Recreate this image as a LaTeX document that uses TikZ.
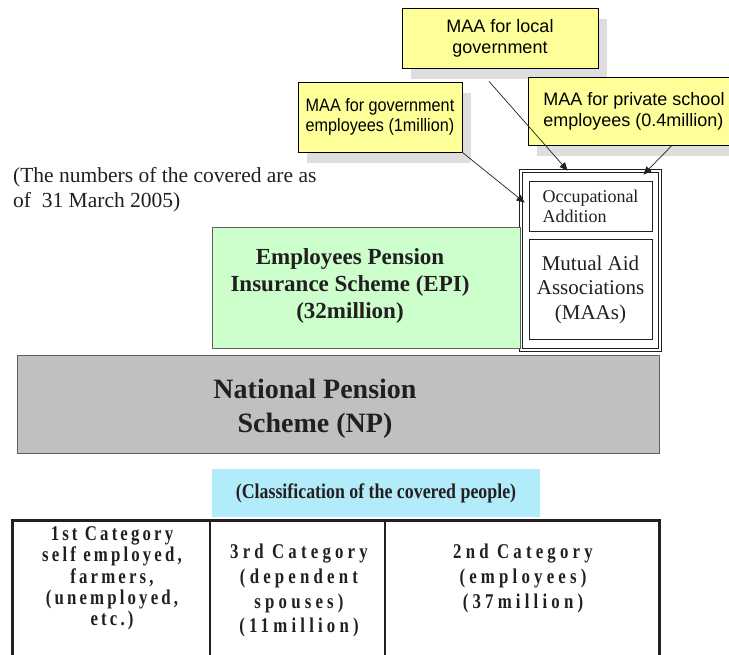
\documentclass[tikz,border=0pt]{standalone}
\usepackage{fontspec}
\setmainfont{Liberation Serif}
\setsansfont{Liberation Sans}
\newfontfamily\narrowsans[FakeStretch=0.9]{Liberation Sans}
\newfontfamily\condserif[FakeStretch=0.85]{Liberation Serif}
\newfontfamily\catserif[FakeStretch=0.8,LetterSpace=15]{Liberation Serif}
\newfontfamily\widecatserif[FakeStretch=0.8,LetterSpace=20]{Liberation Serif}
\usetikzlibrary{arrows.meta,positioning,calc,shadows}
\definecolor{MemoYellow}{RGB}{255,255,153}
\definecolor{ShadowGray}{RGB}{222,222,222}
\definecolor{EpiGreen}{RGB}{204,255,204}
\definecolor{NpGray}{RGB}{192,192,192}
\definecolor{LabelCyan}{RGB}{178,236,250}
\definecolor{Ink}{RGB}{35,31,32}
\definecolor{EdgeGray}{RGB}{95,95,95}
\tikzset{
  memo/.style    ={rectangle, draw=black, line width=.8pt, fill=MemoYellow, text=black,
                   font=\sffamily\fontsize{18}{21}\selectfont, inner sep=0pt,
                   drop shadow={shadow xshift=9pt, shadow yshift=-11pt, fill=ShadowGray, opacity=1}},
  scheme/.style  ={rectangle, draw=EdgeGray, line width=.8pt, inner sep=0pt},
  schemetxt/.style={align=center, text=Ink, font=\bfseries, inner sep=0pt},
  maabox/.style  ={rectangle, draw=Ink, line width=.9pt, double=white, double distance=1.3pt,
                   fill=white, inner sep=0pt},
  subbox/.style  ={rectangle, draw=Ink, line width=.7pt, fill=white, text=Ink, inner sep=0pt,
                   minimum width=123pt},
  cattxt/.style  ={align=center, text=Ink, inner sep=0pt, anchor=north},
  arr/.style     ={-{Triangle[length=8pt,width=7pt]}, draw=Ink, line width=.7pt},
}
\begin{document}
\begin{tikzpicture}[x=1pt,y=-1pt]
  \useasboundingbox (0,0) rectangle (729,654);

  % mutual aid associations fed from the three memos
  \node[memo,minimum width=196pt,minimum height=60pt,align=center] (locgov) at (500,38)
       {MAA for local\\government};
  \node[memo,minimum width=164pt,minimum height=70pt,align=left,
        font=\narrowsans\fontsize{18}{20}\selectfont] (govemp) at (380,117)
       {MAA for government\\employees (1million)};
  \node[memo,minimum width=212pt,minimum height=68pt,align=left] (private) at (634,111)
       {MAA for private school\\employees (0.4million)};

  \node[anchor=north west,align=left,inner sep=0pt,text=Ink,font=\fontsize{21.5}{25}\selectfont]
       (asof) at (13,167) {(The numbers of the covered are as\\of \ 31 March 2005)};

  \node[maabox,minimum width=139pt,minimum height=179pt] (maa) at (590.5,260.5) {};
  \node[subbox,minimum height=50pt,align=left,font=\fontsize{18}{20}\selectfont]
       (occ) at (590.5,206) {Occupational\\Addition};
  \node[subbox,minimum height=100pt,align=center,font=\fontsize{21}{24.5}\selectfont,
        below=8pt of occ] (mut) {Mutual Aid\\Associations\\(MAAs)};

  \node[scheme,fill=EpiGreen,minimum width=308pt,minimum height=121pt] (epi) at (366,287.5) {};
  \node[schemetxt,font=\bfseries\fontsize{23}{27}\selectfont] (epitxt) at (350,286)
       {Employees Pension\\Insurance Scheme (EPI)\\(32million)};

  \node[scheme,fill=NpGray,minimum width=642pt,minimum height=98pt] (np) at (338,404) {};
  \node[schemetxt,font=\bfseries\fontsize{28}{34}\selectfont] (nptxt) at (315,409)
       {National Pension\\Scheme (NP)};

  \draw[arr] ($(locgov.south)+(-11,13)$) -- ($(maa.north west)+(47,0)$);
  \draw[arr] ($(private.south)+(38,0)$) -- ($(maa.north east)+(-17,4)$);
  \draw[arr] (govemp.south east) -- ($(maa.north west)+(4,32)$);

  % classification of the covered people
  \node[fill=LabelCyan,minimum width=328pt,minimum height=48pt,inner sep=0pt,text=Ink,
        font=\condserif\bfseries\fontsize{21}{24}\selectfont] (classlbl) at (376,493)
       {(Classification of the covered people)};

  \draw[Ink,line width=3pt] (12,670) -- (12,520.5) -- (659,520.5) -- (659,670);
  \draw[Ink,line width=1.2pt] (210,522) -- (210,670) (385,522) -- (385,670);

  \node[cattxt,font=\catserif\bfseries\fontsize{21}{21.3}\selectfont] (cat1) at (112,526.5)
       {1st Category\\self employed,\\farmers,\\(unemployed,\\etc.)};
  \node[cattxt,font=\widecatserif\bfseries\fontsize{21}{24.7}\selectfont] (cat3) at (299,544)
       {3rd Category\\(dependent\\spouses)\\(11million)};
  \node[cattxt,font=\widecatserif\bfseries\fontsize{21}{25}\selectfont] (cat2) at (523,544)
       {2nd Category\\(employees)\\(37million)};
\end{tikzpicture}
\end{document}
